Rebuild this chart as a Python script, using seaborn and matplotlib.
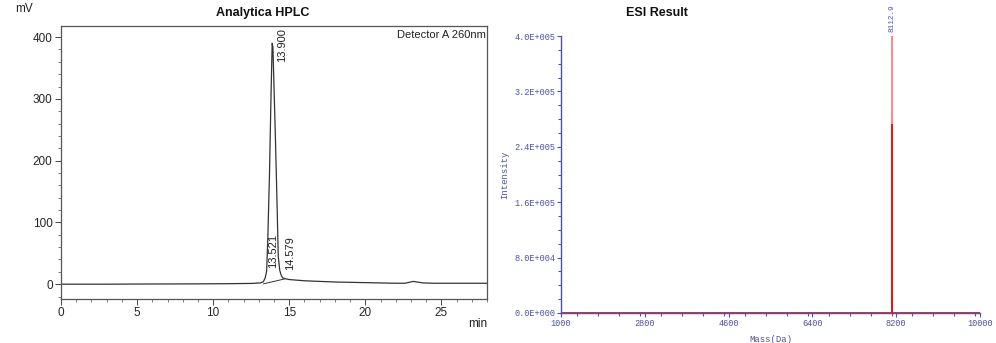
import numpy as np
import pandas as pd
import matplotlib
matplotlib.use("Agg")
import matplotlib.pyplot as plt
from matplotlib.ticker import MultipleLocator, FixedLocator
import seaborn as sns

# ---------------- data ----------------
hplc_time = [0, 3, 6, 9, 11, 12.5, 13.1, 13.3, 13.42, 13.52, 13.6, 13.7, 13.8, 13.88,
             13.93, 14.0, 14.1, 14.2, 14.28, 14.38, 14.48, 14.58, 14.8, 15.0, 15.5,
             16.0, 17.0, 18.0, 19.0, 20.0, 21.0, 22.0, 22.6, 22.9, 23.15, 23.4, 23.8,
             24.5, 25.5, 26.5, 28.0]
hplc_mv = [0, 0, 0.3, 0.5, 0.8, 1.2, 2, 4, 10, 22, 80, 175, 300, 390,
           383, 320, 230, 130, 45, 22, 14, 10, 8.5, 7.5, 6.5,
           5.5, 4.5, 3.5, 3, 2.5, 2, 1.5, 1.5, 3, 4.5, 3.5, 2,
           1.5, 1.5, 1.5, 1.5]
baseline_time = [13.3, 14.7]
baseline_mv = [0.5, 8.5]
peak_labels = ["13.900", "13.521", "14.579"]
peak_label_x = [14.54, 13.95, 15.07]
peak_label_y = [414, 26, 23]

esi_mass = [8112.9]
esi_intensity = [4.0e5]
esi_yticks = [0, 8.0e4, 1.6e5, 2.4e5, 3.2e5, 4.0e5]
esi_yticklabels = ["0.0E+000", "8.0E+004", "1.6E+005", "2.4E+005", "3.2E+005", "4.0E+005"]
esi_xticks = [1000, 2800, 4600, 6400, 8200, 10000]

# ---------------- figure ----------------
sns.set_theme(style="white")
plt.rcParams["font.family"] = ["Liberation Sans", "DejaVu Sans"]

fig = plt.figure(figsize=(9.96, 3.43), dpi=100)
ax1 = fig.add_axes([61/996, 1-299/343, (487-61)/996, (299-26)/343])
ax2 = fig.add_axes([561/996, 1-313/343, (980-561)/996, (313-36)/343])

# ---- HPLC ----
dfh = pd.DataFrame({"t": hplc_time, "mv": hplc_mv})
sns.lineplot(data=dfh, x="t", y="mv", ax=ax1, color="#333333", linewidth=0.9,
             estimator=None, sort=False)
sns.lineplot(x=baseline_time, y=baseline_mv, ax=ax1, color="#333333", linewidth=0.7,
             estimator=None, sort=False)
ax1.set_xlim(0, 28)
ax1.set_ylim(-24, 418)
ax1.xaxis.set_major_locator(MultipleLocator(5))
ax1.xaxis.set_minor_locator(MultipleLocator(1))
ax1.yaxis.set_major_locator(MultipleLocator(100))
ax1.yaxis.set_minor_locator(MultipleLocator(20))
ax1.set_yticks([0, 100, 200, 300, 400])
ax1.tick_params(axis="both", which="major", direction="out", length=4, width=0.7,
                color="#444444", labelsize=8.5, pad=2, bottom=True, left=True)
ax1.tick_params(axis="both", which="minor", direction="out", length=2, width=0.6,
                color="#666666", bottom=True, left=True)
for s in ax1.spines.values():
    s.set_color("#555555")
    s.set_linewidth(0.9)
ax1.set_xlabel("")
ax1.set_ylabel("")
for lab, x, y in zip(peak_labels, peak_label_x, peak_label_y):
    ax1.text(x, y, lab, rotation=90, ha="center", va="top" if y > 200 else "bottom",
             fontsize=8, color="#222222")
ax1.text(0.998, 0.985, "Detector A 260nm", transform=ax1.transAxes, ha="right",
         va="top", fontsize=8, color="#222222")
fig.text(24/996, 1-9/343, "mV", ha="center", va="center", fontsize=8.5, color="#222222")
fig.text(478/996, 1-324/343, "min", ha="center", va="center", fontsize=8.5, color="#222222")
fig.text(263/996, 1-13/343, "Analytica HPLC", ha="center", va="center", fontsize=9,
         fontweight="bold", color="#111111")

# ---- ESI ----
blue = "#5050a8"
mono = ["Liberation Mono", "DejaVu Sans Mono"]
stick_x = [1000]
stick_y = [0]
for m, i in zip(esi_mass, esi_intensity):
    stick_x += [m, m, m]
    stick_y += [0, i, 0]
stick_x.append(10000)
stick_y.append(0)
sns.lineplot(x=stick_x, y=stick_y, ax=ax2, color="#ff8c8c", linewidth=1.2,
             estimator=None, sort=False)
for m, i in zip(esi_mass, esi_intensity):
    sns.lineplot(x=[1000, m, m, m, 10000], y=[0, 0, i * 0.68, 0, 0], ax=ax2,
                 color="#ee1111", linewidth=1.2, estimator=None, sort=False)
    ax2.text(m, i * 1.015, f"{m:.1f}", rotation=90, ha="center", va="bottom",
             fontsize=5.5, color=blue, family=mono, clip_on=False)
ax2.set_xlim(1000, 10000)
ax2.set_ylim(0, 4.0e5)
ax2.set_xticks(esi_xticks)
ax2.set_xticklabels([str(v) for v in esi_xticks])
ax2.xaxis.set_minor_locator(MultipleLocator(450))
ax2.set_yticks(esi_yticks)
ax2.set_yticklabels(esi_yticklabels)
ax2.yaxis.set_minor_locator(MultipleLocator(2.0e4))
ax2.tick_params(axis="both", which="major", direction="out", length=3, width=0.8,
                color=blue, labelcolor=blue, labelsize=6.2, pad=1, bottom=True, left=True)
ax2.tick_params(axis="both", which="minor", direction="out", length=2, width=0.8,
                color=blue, bottom=True, left=True)
for lab in ax2.get_xticklabels() + ax2.get_yticklabels():
    lab.set_family(mono)
for side in ["top", "right"]:
    ax2.spines[side].set_visible(False)
for side in ["left", "bottom"]:
    ax2.spines[side].set_color(blue)
    ax2.spines[side].set_linewidth(1.0)
ax2.set_xlabel("Mass(Da)", fontsize=6.5, color=blue, family=mono, labelpad=5)
ax2.set_ylabel("Intensity", fontsize=6.5, color=blue, family=mono, labelpad=4)
fig.text(657/996, 1-13/343, "ESI Result", ha="center", va="center", fontsize=9,
         fontweight="bold", color="#111111")

fig.savefig("out.png", dpi=100)
